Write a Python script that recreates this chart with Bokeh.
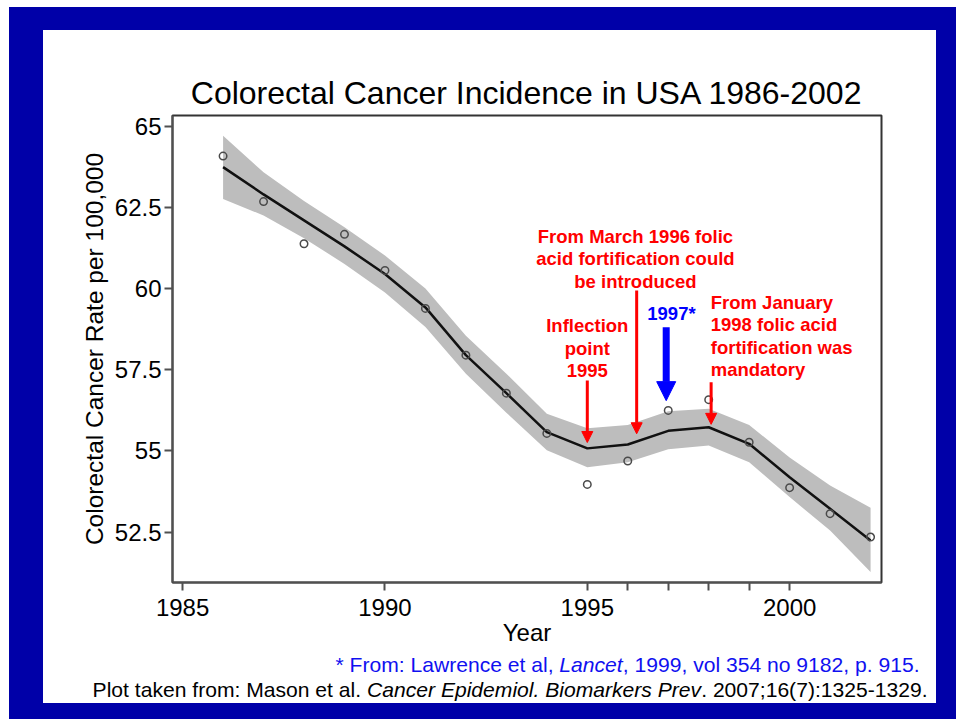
from bokeh.plotting import figure
from bokeh.models import FixedTicker, NumeralTickFormatter, Arrow, NormalHead, Range1d
from bokeh.layouts import column
from bokeh.embed import file_html
from bokeh.resources import INLINE
from bokeh.core.properties import value

# ---------------- data ----------------
years = [1986, 1987, 1988, 1989, 1990, 1991, 1992, 1993, 1994,
         1995, 1996, 1997, 1998, 1999, 2000, 2001, 2002]
observed = [64.08, 62.68, 61.38, 61.67, 60.56, 59.39, 57.95, 56.78, 55.54,
            53.97, 54.69, 56.25, 56.58, 55.27, 53.87, 53.07, 52.35]
fitted = [63.74, 62.90, 62.10, 61.30, 60.45, 59.42, 57.95, 56.78, 55.58,
          55.08, 55.20, 55.62, 55.73, 55.22, 54.19, 53.22, 52.24]
lower = [62.76, 62.25, 61.55, 60.76, 59.88, 58.82, 57.38, 56.18, 55.02,
         54.50, 54.65, 55.05, 55.17, 54.65, 53.58, 52.55, 51.27]
upper = [64.71, 63.58, 62.70, 61.89, 61.02, 60.00, 58.55, 57.38, 56.15,
         55.70, 55.80, 56.22, 56.30, 55.80, 54.80, 53.94, 53.25]

year_ticks = [1985, 1990, 1995, 2000]
year_minor_ticks = [1996, 1997, 1998, 1999]
rate_ticks = [52.5, 55, 57.5, 60, 62.5, 65]

title_text = "Colorectal Cancer Incidence in USA 1986-2002"
x_label = "Year"
y_label = "Colorectal Cancer Rate per 100,000"

note_march = ["From March 1996 folic", "acid fortification could", "be introduced"]
note_inflect = ["Inflection", "point", "1995"]
note_1997 = ["1997*"]
note_jan = ["From January", "1998 folic acid", "fortification was", "mandatory"]

ref_blue = [("* From: Lawrence et al,", "normal"), ("Lancet", "italic"),
            (", 1999, vol 354 no 9182, p. 915.", "normal")]
ref_black = [("Plot taken from: Mason et al.", "normal"),
             ("Cancer Epidemiol. Biomarkers Prev", "italic"),
             (". 2007;16(7):1325-1329.", "normal")]

# ---------------- styling ----------------
FONT = "Liberation Sans"
SLIDE_BLUE = "#0000A8"
RED = "#FF0000"
BLUE = "#0000FF"
AXIS_GREY = "#505050"
SLIDE_W = 893

p = figure(width=SLIDE_W, height=622,
           x_range=(1984.75, 2002.27), y_range=(50.95, 65.33),
           output_backend="svg", toolbar_location=None,
           min_border_left=129, min_border_right=55,
           min_border_top=85, min_border_bottom=70,
           border_fill_color="white", background_fill_color="white",
           outline_line_color="#333333", outline_line_width=2)

p.title.text = title_text
p.title.text_font = FONT
p.title.text_font_size = "32px"
p.title.text_font_style = "normal"
p.title.text_color = "black"
p.title.align = "center"
p.title.standoff = 9

p.grid.visible = False

for ax in (p.xaxis[0], p.yaxis[0]):
    ax.axis_line_color = AXIS_GREY
    ax.axis_line_width = 2
    ax.major_tick_line_color = AXIS_GREY
    ax.major_tick_line_width = 2
    ax.major_tick_in = 0
    ax.major_label_text_font = FONT
    ax.major_label_text_font_size = "24px"
    ax.major_label_text_color = "black"
    ax.axis_label_text_font = FONT
    ax.axis_label_text_font_size = "24px"
    ax.axis_label_text_font_style = "normal"
    ax.axis_label_text_color = "black"

# x axis
p.xaxis.ticker = FixedTicker(ticks=year_ticks, minor_ticks=year_minor_ticks)
p.xaxis.axis_label = x_label
p.xaxis.major_tick_out = 8
p.xaxis.minor_tick_out = 8
p.xaxis.minor_tick_in = 0
p.xaxis.minor_tick_line_color = AXIS_GREY
p.xaxis.minor_tick_line_width = 2
p.xaxis.major_label_standoff = 8
p.xaxis.axis_label_standoff = 0

# y axis
p.yaxis.ticker = FixedTicker(ticks=rate_ticks, minor_ticks=[])
p.yaxis.formatter = NumeralTickFormatter(format="0.[0]")
p.yaxis.axis_label = y_label
p.yaxis.major_tick_out = 8
p.yaxis.minor_tick_line_color = None
p.yaxis.major_label_standoff = 3
p.yaxis.axis_label_standoff = 4
p.yaxis.axis_label_text_font_size = "24.5px"

# confidence band, fitted curve, observed points
p.varea(x=years, y1=lower, y2=upper, fill_color="#BDBDBD", fill_alpha=1.0)
p.line(x=years, y=fitted, line_color="#111111", line_width=2.5)
p.scatter(x=years, y=observed, marker="circle", size=7.5, fill_color=None,
          line_color="#4a4a4a", line_width=1.5)

# ---------------- annotations ----------------
LINE_STEP = 0.69  # data units between text lines (~22 px)


def note(lines, x, y_first, align, color):
    ys = [y_first - i * LINE_STEP for i in range(len(lines))]
    p.text(x=[x] * len(lines), y=ys, text=lines,
           text_font=value(FONT), text_font_size="18.5px",
           text_font_style="bold", text_color=color,
           text_align=align, text_baseline="middle")


note(note_march, 1996.19, 61.61, "center", RED)
note(note_inflect, 1995.0, 58.86, "center", RED)
note(note_1997, 1997.08, 59.24, "center", BLUE)
note(note_jan, 1998.05, 59.57, "left", RED)


def arrow(x, y0, y1, color, width, head):
    p.add_layout(Arrow(x_start=x, y_start=y0, x_end=x, y_end=y1,
                       line_color=color, line_width=width,
                       end=NormalHead(size=head, fill_color=color,
                                      line_color=color, line_width=1)))


arrow(1995.0, 57.17, 55.26, RED, 3, 11)
arrow(1996.22, 59.94, 55.53, RED, 3, 11)
arrow(1996.95, 58.81, 56.55, BLUE, 7, 19)
arrow(1998.06, 57.12, 55.82, RED, 3, 11)

# ---------------- references below the plot ----------------
NOTE_H = 51
q = figure(width=SLIDE_W, height=NOTE_H,
           x_range=Range1d(0, SLIDE_W), y_range=Range1d(NOTE_H, 0),
           output_backend="svg", toolbar_location=None,
           title_location=None,
           x_axis_type=None, y_axis_type=None,
           min_border=0, min_border_left=0, min_border_right=0,
           min_border_top=0, min_border_bottom=0,
           outline_line_color=None, border_fill_color="white",
           background_fill_color="white")
q.frame_align = False
q.grid.visible = False

ARIAL_W = {' ': 278, '*': 389, ',': 278, '.': 278, ':': 278, ';': 278,
           '(': 333, ')': 333, '-': 333,
           'A': 667, 'B': 667, 'C': 722, 'E': 667, 'F': 611, 'L': 556,
           'M': 833, 'P': 667, 'U': 722, 'S': 667,
           'a': 556, 'b': 556, 'c': 500, 'd': 556, 'e': 556, 'f': 278,
           'i': 222, 'k': 500, 'l': 222, 'm': 833, 'n': 556, 'o': 556,
           'p': 556, 'r': 333, 's': 500, 't': 278, 'v': 500, 'w': 722}
for dgt in "0123456789":
    ARIAL_W[dgt] = 556

REF_SIZE = 21.1


def text_w(s):
    return sum(ARIAL_W.get(ch, 556) for ch in s) * REF_SIZE / 1000.0


def ref_line(parts, right_x, y, color):
    x = right_x
    for idx in range(len(parts) - 1, -1, -1):
        txt, style = parts[idx]
        q.text(x=[x], y=[y], text=[txt], text_font=value(FONT),
               text_font_size=f"{REF_SIZE}px", text_font_style=style,
               text_color=color, text_align="right",
               text_baseline="middle")
        x -= text_w(txt)
        if idx > 0 and not txt.startswith((",", ".")):
            x -= text_w(" ")


ref_line(ref_blue, 876, 12, "#1010F0")
ref_line(ref_black, 884, 37, "black")

layout = column(p, q, spacing=0,
                styles={"margin": "7px 0px 0px 9px",
                        "border-style": "solid",
                        "border-color": SLIDE_BLUE,
                        "border-width": "23px 20px 16px 34px"})

open("out.html", "w").write(file_html(layout, INLINE))
